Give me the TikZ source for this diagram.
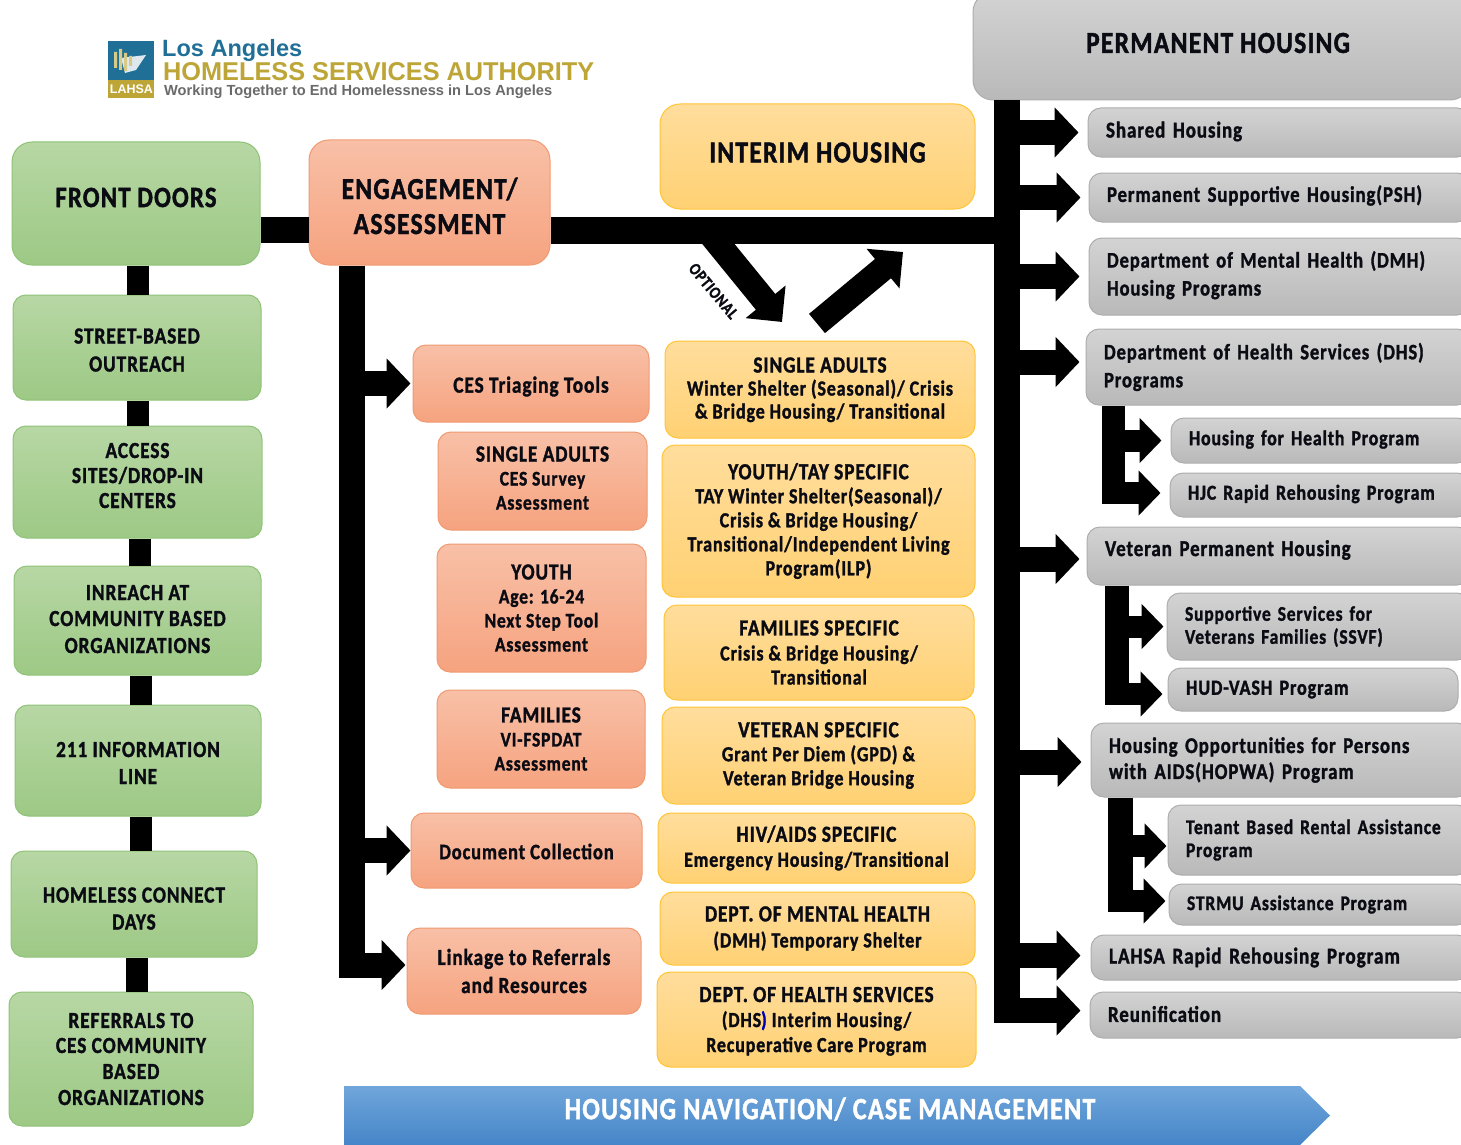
\documentclass[tikz,border=0pt]{standalone}
\usepackage{fontspec}
\usepackage{graphicx}
\setmainfont{Carlito}[FakeStretch=0.84,LetterSpace=4,BoldFeatures={FakeBold=1.4}]
\newfontfamily\logofont{Liberation Sans}
\usetikzlibrary{arrows.meta,shapes.geometric,calc}
\definecolor{ink}{HTML}{0B0B14}
\definecolor{grb}{HTML}{8FC378}\definecolor{grt}{HTML}{B7D7A4}\definecolor{grd}{HTML}{9DC985}
\definecolor{orb}{HTML}{F09A72}\definecolor{ort}{HTML}{F8C0A7}\definecolor{ord}{HTML}{F6A37F}
\definecolor{yeb}{HTML}{FFC535}\definecolor{yet}{HTML}{FFDD9C}\definecolor{yed}{HTML}{FFD173}
\definecolor{gyb}{HTML}{ADADAD}\definecolor{gyt}{HTML}{D3D3D3}\definecolor{gyd}{HTML}{B9B9B9}
\definecolor{bat}{HTML}{70A6DB}\definecolor{bad}{HTML}{4585C8}
\definecolor{logoblue}{HTML}{1F6F97}\definecolor{logogold}{HTML}{BDA637}\definecolor{logogrey}{HTML}{6A6A6A}
\newcommand{\fsz}[1]{\fontsize{#1}{25}\selectfont\bfseries}
\newcommand{\hd}[1]{{\fontsize{23}{25}\selectfont\bfseries #1}}
\newsavebox{\shbox}
\newcommand{\nudge}[2]{\sbox{\shbox}{#2}\raisebox{#1pt}[\ht\shbox][\dp\shbox]{\usebox{\shbox}}}
\newcommand{\mlines}[2]{\nudge{#1}{\begin{tabular}{@{}c@{}}#2\end{tabular}}}
\newcommand{\llines}[2]{\nudge{#1}{\begin{tabular}{@{}l@{}}#2\end{tabular}}}
\tikzset{
 basebox/.style={draw,line width=1pt,rounded corners=13pt,align=center,inner sep=0pt,text=ink,font=\fsz{20.8}},
 greenbox/.style={basebox,draw=grb,top color=grt,bottom color=grd,font=\fsz{23}},
 orangebox/.style={basebox,draw=orb,top color=ort,bottom color=ord},
 yellowbox/.style={basebox,draw=yeb,top color=yet,bottom color=yed,font=\fsz{21.4}},
 greybox/.style={basebox,draw=gyb,top color=gyt,bottom color=gyd,align=left,inner xsep=18pt,text width=\dimexpr\bw pt-36pt\relax},
 fs/.style={font=\fsz{#1}},
 bighead/.style={font=\fontsize{30.5}{35}\selectfont\bfseries,rounded corners=20pt},
 linkbar/.style={line width=22pt,draw=black},
 bigarrow/.style={line width=25pt,draw=black,-{Triangle[length=24pt,width=49pt]}},
 subarrow/.style={line width=22pt,draw=black,-{Triangle[length=22pt,width=44pt]}},
 optarrow/.style={line width=25pt,draw=black,-{Triangle[length=26pt,width=50pt]}},
}
\newcommand{\bx}[7][]{%
 \pgfmathsetmacro{\bw}{#4-#2}\pgfmathsetmacro{\bh}{#5-#3}%
 \node[#6,minimum width=\bw pt,minimum height=\bh pt,#1] (#7) at ({(#2+#4)/2},{(#3+#5)/2})}
\begin{document}
\begin{tikzpicture}[x=1pt,y=-1pt]
\clip (0,0) rectangle (1461,1145);
\fill[white] (0,0) rectangle (1461,1145);
% logo
\fill[logoblue] (108,41) rectangle (154,80);
\fill[logogold] (108,80) rectangle (154,98);
\fill[white!85!logoblue] (121,58) -- (146,55) -- (136,70) -- (125,73) -- cycle;
\fill[logogold!60!white] (114,52) rectangle (117,68) (119,49) rectangle (122,70) (124,53) rectangle (127,71) (129,56) rectangle (132,66);
\node[inner sep=0pt,text=white] (lgabbr) at (131.5,89) {\resizebox{43pt}{!}{\logofont\bfseries LAHSA}};
\node[inner sep=0pt,text=logoblue,anchor=west] (lgname) at (162,50) {\resizebox{140pt}{!}{\logofont\bfseries Los Angeles}};
\node[inner sep=0pt,text=logogold,anchor=west] (lgauth) at (163,72) {\resizebox{431pt}{18pt}{\logofont\bfseries HOMELESS SERVICES AUTHORITY}};
\node[inner sep=0pt,text=logogrey,anchor=west] (lgtag) at (164,91.5) {\resizebox{388pt}{!}{\logofont\bfseries Working Together to End Homelessness in Los Angeles}};
% left column
\bx[bighead,font=\fontsize{29.5}{35}\selectfont\bfseries]{12}{142}{260}{265}{greenbox}{fd} {\nudge{6}{FRONT DOORS}};
\bx{13}{295}{261}{400}{greenbox}{st} {\mlines{-5}{STREET-BASED\\[3pt]OUTREACH}};
\bx{13}{426}{262}{538}{greenbox}{ac} {\mlines{4}{ACCESS\\SITES/DROP-IN\\CENTERS}};
\bx{14}{566}{261}{675}{greenbox}{in} {\mlines{-1}{INREACH AT\\[1pt]COMMUNITY BASED\\[2pt]ORGANIZATIONS}};
\bx{15}{705}{261}{816}{greenbox}{li} {\mlines{-5}{211 INFORMATION\\[2pt]LINE}};
\bx{11}{851}{257}{957}{greenbox}{hc} {\mlines{-7}{HOMELESS CONNECT\\[2pt]DAYS}};
\bx{9}{992}{253}{1126}{greenbox}{rf} {REFERRALS TO\\CES COMMUNITY\\[1pt]BASED\\[1pt]ORGANIZATIONS};
% middle left
\bx[bighead]{309}{140}{550}{265}{orangebox}{en} {\mlines{-7}{ENGAGEMENT/\\ASSESSMENT}};
\bx{413}{345}{649}{422}{orangebox}{tr} {\nudge{-3}{\hd{CES Triaging Tools}}};
\bx{438}{432}{647}{530}{orangebox}{sa} {\mlines{0.5}{\hd{SINGLE ADULTS}\\[-1pt]CES Survey\\[-1pt]Assessment}};
\bx{437}{544}{646}{672}{orangebox}{yo} {\hd{YOUTH}\\[-1pt]Age: 16-24\\[-1pt]Next Step Tool\\[-1pt]Assessment};
\bx{437}{690}{645}{788}{orangebox}{fa} {\hd{FAMILIES}\\[-1pt]VI-FSPDAT\\[-1pt]Assessment};
\bx[fs=22]{411}{813}{642}{888}{orangebox}{dc} {\nudge{-1}{Document Collection}};
\bx[fs=23]{407}{928}{641}{1014}{orangebox}{lk} {Linkage to Referrals\\[3pt]and Resources};
% interim column
\bx[bighead]{660}{104}{975}{209}{yellowbox}{ih} {\nudge{4}{INTERIM HOUSING}};
\bx{665}{341}{975}{438}{yellowbox}{isa} {\mlines{-1}{\hd{SINGLE ADULTS}\\[-2pt]Winter Shelter (Seasonal)/ Crisis\\[-2pt]\& Bridge Housing/ Transitional}};
\bx{662}{445}{975}{597}{yellowbox}{iyo} {\hd{YOUTH/TAY SPECIFIC}\\[-1pt]TAY Winter Shelter(Seasonal)/\\[-1pt]Crisis \& Bridge Housing/\\[-1pt]Transitional/Independent Living\\[-1pt]Program(ILP)};
\bx{664}{605}{974}{700}{yellowbox}{ifa} {\hd{FAMILIES SPECIFIC}\\Crisis \& Bridge Housing/\\[-1pt]Transitional};
\bx{662}{707}{975}{804}{yellowbox}{ive} {\hd{VETERAN SPECIFIC}\\[-1pt]Grant Per Diem (GPD) \&\\[-1pt]Veteran Bridge Housing};
\bx{658}{813}{975}{883}{yellowbox}{ihv} {\hd{HIV/AIDS SPECIFIC}\\Emergency Housing/Transitional};
\bx{660}{892}{975}{965}{yellowbox}{idm} {\hd{DEPT. OF MENTAL HEALTH}\\[1pt](DMH) Temporary Shelter};
\bx{657}{972}{976}{1067}{yellowbox}{idh} {\mlines{-2.5}{\hd{DEPT. OF HEALTH SERVICES}\\(DHS\textcolor{blue!70!black}{)} Interim Housing/\\Recuperative Care Program}};
% permanent column
\node[basebox,draw=gyb,top color=gyt,bottom color=gyd,rounded corners=20pt,minimum width=497pt,minimum height=108pt] (ph) at (1221.5,46) {};
\node[inner sep=0pt,text=ink,font=\fontsize{30.5}{35}\selectfont\bfseries] (phl) at (1218,43) {PERMANENT HOUSING};
\bx[fs=22.6]{1088}{108}{1470}{157}{greybox}{sh} {\nudge{1}{Shared Housing}};
\bx[fs=22.3]{1089}{173}{1470}{222}{greybox}{ps} {\nudge{2}{Permanent Supportive Housing(PSH)}};
\bx[fs=22.1]{1089}{238}{1470}{315}{greybox}{dm} {\llines{0}{Department of Mental Health (DMH)\\[3pt]Housing Programs}};
\bx[fs=22.1]{1086}{329}{1470}{405}{greybox}{dh} {Department of Health Services (DHS)\\[3pt]Programs};
\bx[fs=21.2]{1171}{418}{1470}{463}{greybox}{hh} {\nudge{1}{Housing for Health Program}};
\bx[fs=21.2]{1170}{473}{1470}{517}{greybox}{hj} {\nudge{1}{HJC Rapid Rehousing Program}};
\bx[fs=22.6]{1087}{527}{1470}{585}{greybox}{vp} {\nudge{6}{Veteran Permanent Housing}};
\bx{1167}{593}{1470}{660}{greybox}{ss} {Supportive Services for\\[-2pt]Veterans Families (SSVF)};
\bx[fs=21.6]{1168}{668}{1458}{711}{greybox}{hu} {HUD-VASH Program};
\bx[fs=22.4]{1091}{723}{1470}{797}{greybox}{ho} {Housing Opportunities for Persons\\[1pt]with AIDS(HOPWA) Program};
\bx{1168}{805}{1470}{875}{greybox}{tb} {Tenant Based Rental Assistance\\[-2pt]Program};
\bx{1169}{884}{1470}{925}{greybox}{sm} {STRMU Assistance Program};
\bx[fs=22.8]{1091}{935}{1470}{980}{greybox}{lr} {LAHSA Rapid Rehousing Program};
\bx[fs=22.6]{1090}{992}{1470}{1038}{greybox}{re} {\nudge{1}{Reunification}};
% named connector ends
\coordinate (spn) at (1007,230);
\coordinate (spb) at (1007,1022);
\coordinate (engb) at (352,977);
\coordinate (dhb) at (1113.5,504);
\coordinate (vpb) at (1117,705);
\coordinate (hob) at (1120.5,912);
\coordinate (optA) at (707,230);
\coordinate (optB) at (782,322);
\coordinate (optC) at (817,323.5);
\coordinate (optD) at (903,252);
% left column links
\draw[linkbar] (138,0 |- fd.south) -- (138,0 |- st.north);
\draw[linkbar] (138,0 |- st.south) -- (138,0 |- ac.north);
\draw[linkbar] (140,0 |- ac.south) -- (140,0 |- in.north);
\draw[linkbar] (141,0 |- in.south) -- (141,0 |- li.north);
\draw[linkbar] (141,0 |- li.south) -- (141,0 |- hc.north);
\draw[linkbar] (137,0 |- hc.south) -- (137,0 |- rf.north);
% main trunk
\draw[line width=26pt,draw=black] (fd.east |- spn) -- (en.west |- spn);
\draw[line width=27pt,draw=black] (en.east |- spn) -- (spn);
\draw[line width=26pt,draw=black] (ph.south -| spn) -- (spb);
% optional arrows
\draw[optarrow] (optA) -- (optB);
\draw[optarrow] (optC) -- (optD);
\node[rotate=-50,inner sep=0pt,font=\fontsize{17}{19}\selectfont\bfseries,text=ink] (optl) at (713.5,291) {OPTIONAL};
% engagement branch
\draw[line width=26pt,draw=black] (en.south -| engb) -- (engb);
\draw[bigarrow] (engb |- tr.west) -- ([xshift=-2pt]tr.west);
\draw[bigarrow] (engb |- dc.west) -- (dc.west);
\draw[bigarrow] ($(engb)+(-13,-12)$) -- ($(lk.west |- engb)+(-1,-12)$);
% permanent arrows
\draw[bigarrow] (spn |- sh.west) -- ([xshift=-9pt]sh.west);
\draw[bigarrow] (spn |- ps.west) -- ([xshift=-8pt]ps.west);
\draw[bigarrow] (spn |- dm.west) -- ([xshift=-9pt]dm.west);
\draw[bigarrow] ($(spn |- dh.west)+(0,-5)$) -- ($(dh.west)+(-6,-5)$);
\draw[bigarrow] ($(spn |- vp.west)+(0,3)$) -- ($(vp.west)+(-7,3)$);
\draw[bigarrow] ($(spn |- ho.west)+(0,2)$) -- ($(ho.west)+(-9,2)$);
\draw[bigarrow] ($(spn |- lr.west)+(0,-2)$) -- ($(lr.west)+(-10,-2)$);
\draw[bigarrow] ($(spn |- re.west)+(-13,-4.5)$) -- ($(re.west)+(-9,-4.5)$);
% sub trunks
\draw[line width=23pt,draw=black] (dh.south -| dhb) -- (dhb);
\draw[subarrow] (dhb |- hh.west) -- ([xshift=-9pt]hh.west);
\draw[subarrow] ($(dhb)+(-11.5,-11)$) -- ($(hj.west |- dhb)+(-9,-11)$);
\draw[line width=24pt,draw=black] (vp.south -| vpb) -- (vpb);
\draw[subarrow] (vpb |- ss.west) -- ([xshift=-3pt]ss.west);
\draw[subarrow] ($(vpb)+(-12,-11)$) -- ($(hu.west |- vpb)+(-5,-11)$);
\draw[line width=25pt,draw=black] (ho.south -| hob) -- (hob);
\draw[subarrow] ($(hob |- tb.west)+(0,6)$) -- ($(tb.west)+(-1,6)$);
\draw[subarrow] ($(hob)+(-12.5,-11)$) -- ($(sm.west |- hob)+(-3,-11)$);
% banner
\path[top color=bat,bottom color=bad] (344,1086) -- (1300,1086) -- (1330,1115.5) -- (1300,1145) -- (344,1145) -- cycle;
\node[inner sep=0pt,text=white,font=\fontsize{31}{35}\selectfont\bfseries] (nav) at (830,1109) {HOUSING NAVIGATION/ CASE MANAGEMENT};
\end{tikzpicture}
\end{document}
